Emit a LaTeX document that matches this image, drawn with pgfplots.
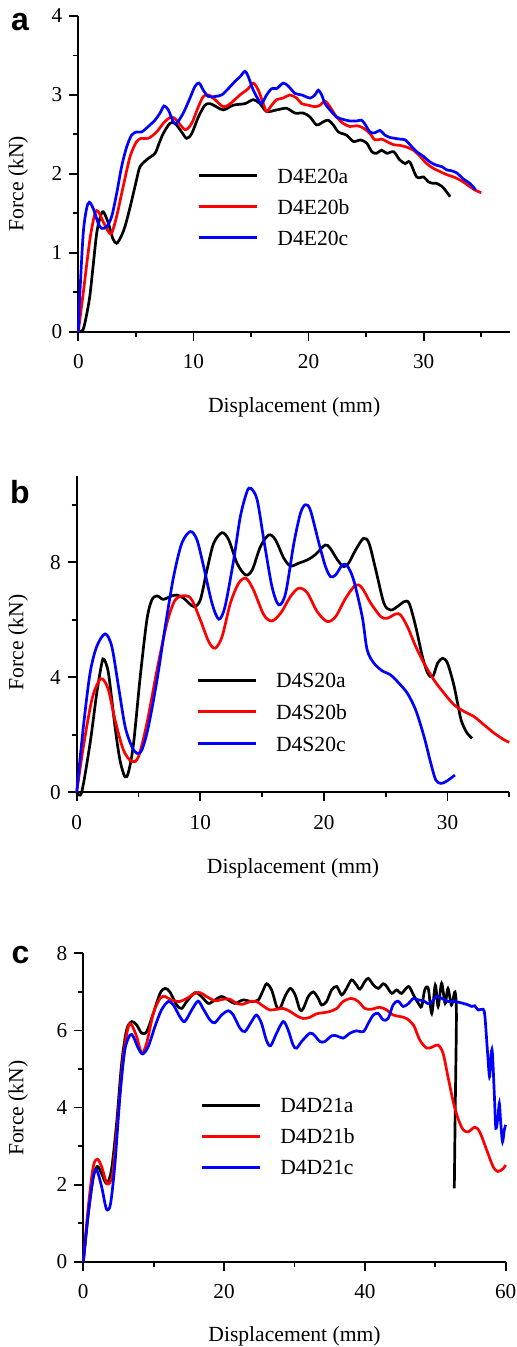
\documentclass[border=0pt]{standalone}
\usepackage{fontspec}
\setmainfont{Liberation Serif}
\newfontfamily\labfont{Liberation Sans}
\usepackage{pgfplots}
\pgfplotsset{compat=1.18}
\pgfplotsset{
 panel/.style={
  scale only axis, anchor=south west, clip=false,
  axis lines=left, axis line style={-, line width=0.9pt},
  tick align=outside, major tick length=4.5pt, minor tick length=2.5pt,
  every tick/.style={black, line width=0.9pt},
  tick label style={font=\rmfamily\fontsize{10.6}{12}\selectfont},
  label style={font=\rmfamily\fontsize{10.8}{13}\selectfont},
  /pgf/number format/assume math mode=true,
  xticklabel style={yshift=-3.5pt},
  xlabel={Displacement (mm)}, ylabel={Force (kN)},
  ymin=0, xmin=0,
  legend cell align=left,
  legend style={draw=none, fill=none, font=\rmfamily\fontsize{10.8}{13}\selectfont,
    inner xsep=0pt, inner ysep=0pt,
    nodes={inner sep=0pt, text height=7.4pt, text depth=0pt},
    row sep=8.1pt, column sep=9.5pt, anchor=north west},
  legend image code/.code={\draw[##1, line width=1.5pt] (0pt,0pt) -- (29pt,0pt);},
  every axis plot/.append style={line width=1.35pt, smooth, tension=0.5},
 }
}
\begin{document}
\begin{tikzpicture}
\path[use as bounding box] (0,0) rectangle (258.5pt,-673.5pt);
\node[font=\labfont\bfseries\fontsize{16}{18}\selectfont] at (10pt,-10.9pt) {a};
\node[font=\labfont\bfseries\fontsize{16}{18}\selectfont] at (10pt,-245.85pt) {b};
\node[font=\labfont\bfseries\fontsize{16}{18}\selectfont] at (10.25pt,-477.5pt) {c};

% ---------------- panel a
\begin{axis}[panel, at={(39.15pt,-165.85pt)}, width=215.85pt, height=157.85pt,
  xmax=37.5, ymax=4,
  xtick={0,10,20,30}, minor xtick={5,15,25,35},
  ytick={0,1,2,3,4}, minor ytick={0.5,1.5,2.5,3.5},
  xlabel style={at={(axis description cs:0.5,-0.238)}, anchor=center},
  ylabel style={at={(axis description cs:-0.139,0.469)}, anchor=center},
  legend style={at={(axis description cs:0.275,0.518)}, row sep=8.1pt}]
\addplot[black] coordinates {(0,0)(0.4,0.02)(0.7,0.2)(1.0,0.45)(1.3,0.85)(1.6,1.25)(1.9,1.45)(2.17,1.52)(2.6,1.38)(3.0,1.18)(3.33,1.12)(3.7,1.2)(4.05,1.33)(4.4,1.52)(4.78,1.75)(5.1,1.95)(5.36,2.09)(5.94,2.18)(6.66,2.26)(7.0,2.38)(7.38,2.51)(7.96,2.64)(8.4,2.64)(8.98,2.53)(9.41,2.45)(9.85,2.51)(10.43,2.72)(11.0,2.87)(11.44,2.89)(12.0,2.85)(12.6,2.81)(13.47,2.87)(14.48,2.89)(15.2,2.94)(15.78,2.89)(16.36,2.79)(17.23,2.81)(18.1,2.83)(18.82,2.77)(19.55,2.77)(20.13,2.72)(20.7,2.62)(21.29,2.66)(21.72,2.68)(22.15,2.62)(22.6,2.53)(23.3,2.49)(23.9,2.41)(24.5,2.43)(25.05,2.39)(25.5,2.28)(25.9,2.26)(26.35,2.30)(26.8,2.26)(27.4,2.28)(27.9,2.18)(28.4,2.13)(28.8,2.15)(29.4,1.96)(30.0,1.96)(30.4,1.90)(30.8,1.88)(31.1,1.88)(31.6,1.84)(32.0,1.77)(32.3,1.71)};
\addlegendentry{D4E20a}
\addplot[red] coordinates {(0,0)(0.43,0.49)(1.0,1.16)(1.45,1.50)(1.74,1.52)(2.17,1.39)(2.6,1.27)(2.9,1.25)(3.33,1.46)(3.9,1.84)(4.5,2.22)(5.07,2.41)(5.5,2.45)(6.08,2.45)(6.8,2.53)(7.5,2.66)(8.1,2.72)(8.54,2.68)(9.27,2.56)(9.85,2.64)(10.43,2.85)(10.86,2.98)(11.3,3.0)(11.87,2.94)(12.6,2.85)(13.2,2.89)(14.05,3.0)(14.77,3.08)(15.2,3.15)(15.64,3.06)(16.07,2.89)(16.36,2.79)(16.8,2.87)(17.23,2.94)(17.8,2.96)(18.38,3.0)(18.97,2.96)(19.4,2.89)(19.98,2.87)(20.56,2.85)(21.0,2.87)(21.43,2.92)(21.86,2.85)(22.44,2.72)(23.0,2.64)(23.6,2.60)(24.2,2.61)(24.76,2.58)(25.34,2.51)(25.77,2.43)(26.35,2.44)(26.79,2.41)(27.37,2.37)(27.95,2.36)(28.5,2.34)(29.1,2.30)(29.7,2.22)(30.26,2.13)(30.84,2.07)(31.4,2.03)(32.0,1.99)(32.6,1.96)(33.2,1.92)(33.8,1.86)(34.4,1.80)(35.0,1.76)};
\addlegendentry{D4E20b}
\addplot[blue] coordinates {(0,0)(0.14,0.49)(0.43,1.25)(0.72,1.56)(0.96,1.64)(1.3,1.56)(1.74,1.37)(2.03,1.31)(2.46,1.33)(2.9,1.46)(3.33,1.75)(3.76,2.09)(4.2,2.34)(4.63,2.49)(5.07,2.53)(5.5,2.53)(6.08,2.60)(6.66,2.68)(7.1,2.77)(7.44,2.86)(7.82,2.81)(8.25,2.66)(8.54,2.64)(9.12,2.77)(9.7,2.96)(10.14,3.11)(10.5,3.15)(10.86,3.06)(11.3,2.98)(11.87,2.98)(12.45,3.0)(13.03,3.08)(13.6,3.17)(14.05,3.23)(14.48,3.30)(14.77,3.23)(15.2,3.06)(15.64,2.94)(15.93,2.89)(16.36,3.0)(16.8,3.08)(17.23,3.08)(17.8,3.15)(18.25,3.11)(18.82,3.02)(19.4,3.0)(20.13,2.96)(20.56,3.0)(20.85,3.06)(21.14,3.0)(21.43,2.89)(21.86,2.81)(22.44,2.72)(23.0,2.69)(23.6,2.67)(24.2,2.67)(24.6,2.68)(24.9,2.63)(25.34,2.53)(25.77,2.52)(26.2,2.55)(26.64,2.49)(27.1,2.46)(27.5,2.45)(27.95,2.44)(28.4,2.43)(28.8,2.37)(29.4,2.28)(30.0,2.22)(30.55,2.15)(31.1,2.11)(31.6,2.09)(32.0,2.05)(32.4,2.04)(32.9,2.01)(33.4,1.94)(34.0,1.88)(34.5,1.80)};
\addlegendentry{D4E20c}
\end{axis}

% ---------------- panel b
\begin{axis}[panel, at={(38.35pt,-396.15pt)}, width=216.3pt, height=158.15pt,
  xmax=35, ymax=11,
  xtick={0,10,20,30}, minor xtick={5,15,25,35},
  ytick={0,4,8}, minor ytick={2,6,10},
  xlabel style={at={(axis description cs:0.5,-0.239)}, anchor=center},
  ylabel style={at={(axis description cs:-0.135,0.474)}, anchor=center},
  legend style={at={(axis description cs:0.275,0.379)}, row sep=8.45pt}]
\addplot[black] coordinates {(0,0)(0.4,0)(1.08,1.70)(1.62,3.44)(2.03,4.49)(2.2,4.63)(2.57,4.14)(3.1,2.28)(3.5,1.12)(3.9,0.54)(4.2,0.72)(4.6,1.70)(5.14,4.02)(5.68,6.0)(6.08,6.69)(6.5,6.83)(7.0,6.71)(7.57,6.81)(8.1,6.86)(8.65,6.75)(9.46,6.46)(10.0,6.69)(10.54,7.73)(11.08,8.66)(11.76,9.03)(12.3,8.78)(12.97,7.97)(13.65,7.56)(14.2,7.73)(14.86,8.54)(15.54,8.95)(16.08,8.78)(16.76,8.14)(17.3,7.87)(17.97,7.97)(18.65,8.08)(19.3,8.26)(20.1,8.6)(20.5,8.49)(21.1,8.08)(21.6,7.85)(22.0,7.97)(22.57,8.43)(23.2,8.83)(23.65,8.66)(24.2,7.73)(24.86,6.57)(25.4,6.34)(25.95,6.46)(26.5,6.63)(26.9,6.57)(27.43,5.76)(27.97,4.72)(28.4,4.14)(28.8,4.02)(29.2,4.49)(29.6,4.66)(30.0,4.49)(30.54,3.68)(31.1,2.52)(31.6,2.05)(32.0,1.88)};
\addlegendentry{D4S20a}
\addplot[red] coordinates {(0,0)(0.54,1.59)(1.22,3.21)(1.76,3.85)(2.1,3.94)(2.57,3.56)(3.1,2.52)(3.78,1.47)(4.46,1.07)(5.0,1.24)(5.68,2.40)(6.5,4.26)(7.3,5.88)(7.97,6.69)(8.78,6.84)(9.32,6.69)(10.0,6.0)(10.68,5.24)(11.2,5.01)(11.76,5.41)(12.43,6.57)(13.1,7.27)(13.7,7.44)(14.3,7.04)(15.14,6.17)(15.8,5.96)(16.5,6.23)(17.3,6.81)(17.97,7.10)(18.65,6.94)(19.46,6.28)(20.27,5.94)(20.95,6.11)(21.76,6.75)(22.57,7.21)(23.1,7.1)(23.8,6.57)(24.6,6.11)(25.1,6.05)(25.8,6.2)(26.2,6.17)(26.76,5.76)(27.43,5.07)(28.1,4.49)(28.9,3.91)(29.73,3.44)(30.54,3.04)(31.35,2.81)(32.16,2.63)(32.97,2.34)(33.8,2.05)(34.6,1.82)(35.0,1.74)};
\addlegendentry{D4S20b}
\addplot[blue] coordinates {(0,0)(0.54,2.28)(1.08,4.14)(1.62,5.07)(2.3,5.51)(2.84,5.07)(3.38,3.68)(3.92,2.28)(4.46,1.59)(4.86,1.36)(5.27,1.47)(5.8,2.28)(6.5,3.91)(7.16,5.76)(7.84,7.5)(8.5,8.66)(9.2,9.07)(9.73,8.78)(10.27,7.85)(10.95,6.57)(11.5,6.02)(12.0,6.46)(12.7,8.08)(13.24,9.59)(13.78,10.46)(14.1,10.57)(14.6,10.17)(15.14,8.78)(15.8,7.15)(16.35,6.52)(16.9,6.92)(17.57,8.66)(18.1,9.7)(18.5,10.0)(18.9,9.82)(19.6,8.66)(20.13,7.85)(20.54,7.5)(20.95,7.56)(21.5,7.91)(21.9,7.87)(22.4,7.39)(23.1,6.11)(23.5,4.95)(24.05,4.49)(24.7,4.23)(25.4,4.08)(26.08,3.79)(26.76,3.44)(27.43,2.86)(28.1,1.94)(28.65,1.01)(29.05,0.43)(29.46,0.31)(29.86,0.37)(30.27,0.49)(30.6,0.60)};
\addlegendentry{D4S20c}
\end{axis}

% ---------------- panel c
\begin{axis}[panel, at={(41.65pt,-630.85pt)}, width=211.2pt, height=154.2pt,
  xmax=60, ymax=8,
  xtick={0,20,40,60}, minor xtick={10,30,50},
  ytick={0,2,4,6,8}, minor ytick={1,3,5,7},
  xlabel style={at={(axis description cs:0.5,-0.243)}, anchor=center},
  ylabel style={at={(axis description cs:-0.154,0.498)}, anchor=center},
  legend style={at={(axis description cs:0.276,0.532)}, row sep=8.0pt}]
\addplot[black] coordinates {(0,0)(0.71,1.25)(1.42,2.2)(2.0,2.47)(2.6,2.29)(3.3,2.03)(4.0,2.38)(4.73,3.59)(5.45,5.15)(6.15,6.01)(6.87,6.23)(7.58,6.14)(8.29,5.93)(9.0,5.97)(9.94,6.44)(10.9,6.96)(11.6,7.09)(12.3,7.0)(13.26,6.66)(13.97,6.57)(14.7,6.75)(15.86,6.98)(16.8,6.88)(17.76,6.70)(18.7,6.79)(19.65,6.88)(20.6,6.79)(21.5,6.70)(22.7,6.79)(23.9,6.75)(24.86,6.79)(25.57,7.05)(26.04,7.21)(26.75,7.05)(27.46,6.62)(27.94,6.57)(28.65,6.88)(29.4,7.09)(30.1,6.92)(30.78,6.53)(31.25,6.57)(31.96,6.88)(32.67,7.0)(33.38,6.83)(33.85,6.66)(34.56,6.75)(35.27,7.05)(36.0,7.14)(36.7,6.92)(37.4,7.09)(38.1,7.31)(38.8,7.18)(39.3,7.07)(40.0,7.27)(40.5,7.35)(41.2,7.18)(41.9,7.09)(42.6,7.21)(43.1,7.14)(43.8,6.96)(44.5,7.05)(45.2,6.96)(46.2,7.14)(46.9,6.92)(47.6,6.70)(48.06,6.62)(48.5,7.05)(49.0,7.09)(49.5,6.44)(50.0,7.18)(50.4,6.62)(50.9,7.22)(51.4,6.70)(51.8,7.09)(52.3,6.66)(52.8,7.0)(53.0,6.4)(52.85,4.2)(52.7,1.9)};
\addlegendentry{D4D21a}
\addplot[red] coordinates {(0,0)(0.71,1.43)(1.42,2.47)(2.0,2.66)(2.6,2.47)(3.4,2.02)(4.17,2.29)(4.97,3.85)(5.68,5.32)(6.4,6.10)(6.87,6.14)(7.58,5.84)(8.29,5.41)(9.0,5.67)(9.94,6.44)(10.9,6.83)(11.6,6.88)(12.5,6.79)(13.7,6.75)(14.7,6.83)(15.86,6.96)(16.6,6.98)(17.5,6.88)(18.7,6.77)(19.9,6.81)(20.8,6.81)(21.8,6.70)(22.7,6.68)(23.7,6.75)(24.6,6.75)(25.57,6.63)(26.5,6.53)(27.46,6.55)(28.4,6.57)(29.4,6.49)(30.3,6.38)(31.25,6.31)(32.2,6.34)(33.1,6.43)(34.1,6.46)(35.0,6.49)(36.0,6.57)(36.9,6.75)(38.1,6.83)(39.06,6.75)(40.0,6.57)(40.96,6.55)(42.1,6.60)(43.1,6.53)(44.0,6.40)(45.0,6.36)(45.9,6.31)(46.9,6.14)(47.8,5.75)(48.8,5.54)(49.7,5.58)(50.4,5.62)(51.1,5.41)(51.8,4.80)(52.6,4.11)(53.3,3.68)(53.98,3.42)(54.7,3.37)(55.6,3.49)(56.3,3.37)(57.3,2.90)(58.2,2.47)(58.9,2.34)(59.66,2.42)(60.0,2.51)};
\addlegendentry{D4D21b}
\addplot[blue] coordinates {(0,0)(0.71,1.25)(1.42,2.2)(1.9,2.38)(2.6,1.95)(3.08,1.51)(3.4,1.34)(3.88,1.51)(4.5,2.55)(5.2,4.28)(5.9,5.49)(6.63,5.88)(7.1,5.84)(7.8,5.54)(8.43,5.39)(9.23,5.58)(10.18,6.10)(11.1,6.53)(12.07,6.75)(12.8,6.66)(13.7,6.36)(14.4,6.23)(15.4,6.53)(16.3,6.76)(17.0,6.57)(18.0,6.27)(18.7,6.20)(19.65,6.40)(20.6,6.51)(21.3,6.40)(22.25,6.06)(22.96,5.97)(23.9,6.23)(24.6,6.40)(25.3,6.19)(26.0,5.75)(26.6,5.60)(27.46,5.93)(28.4,6.23)(29.1,6.01)(29.8,5.62)(30.3,5.54)(31.0,5.71)(32.2,5.93)(32.9,5.86)(33.6,5.71)(34.3,5.71)(35.27,5.86)(36.0,5.86)(36.9,5.80)(37.9,5.93)(38.8,5.99)(39.8,5.97)(40.5,6.19)(41.2,6.40)(41.9,6.44)(42.6,6.27)(43.3,6.31)(44.0,6.66)(44.7,6.76)(45.45,6.62)(46.2,6.70)(46.9,6.83)(47.6,6.79)(48.3,6.77)(49.2,6.69)(50.2,6.88)(50.9,6.83)(51.8,6.75)(52.8,6.75)(54.0,6.70)(54.7,6.66)(55.2,6.62)(55.6,6.64)(56.1,6.53)(56.8,6.55)(57.05,6.36)(57.4,5.49)(57.7,4.80)(57.9,5.32)(58.1,5.45)(58.4,4.28)(58.6,3.46)(58.9,3.76)(59.1,4.11)(59.3,3.59)(59.55,3.11)(59.8,3.42)(60.0,3.55)};
\addlegendentry{D4D21c}
\end{axis}
\end{tikzpicture}
\end{document}
